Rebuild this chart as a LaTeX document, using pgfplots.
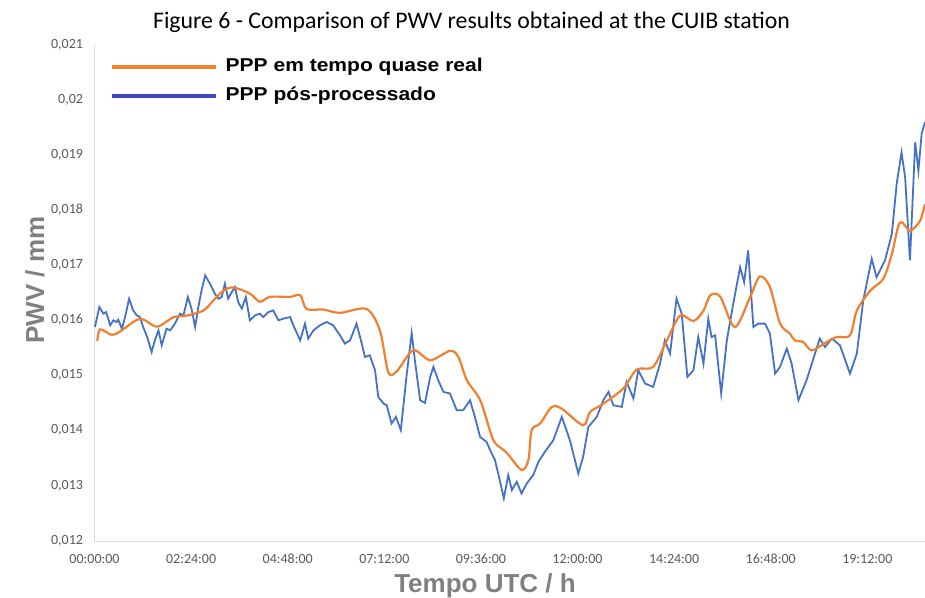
\documentclass[border=0pt]{standalone}
\usepackage{fontspec}
\setmainfont{Carlito}
\newfontfamily\arialfont{Liberation Sans}
\usepackage{graphicx}
\usepackage{pgfplots}
\pgfplotsset{compat=1.18}

\definecolor{serOrange}{RGB}{240,128,48}
\definecolor{serBlue}{RGB}{68,114,196}
\definecolor{legOrange}{RGB}{245,130,45}
\definecolor{legBlue}{RGB}{64,72,196}
\definecolor{tickgray}{RGB}{89,89,89}
\definecolor{labelgray}{RGB}{128,128,128}
\definecolor{axisgray}{RGB}{217,217,217}

% PPP em tempo quase real (hours, PWV)
\pgfplotstableread{
h v
0.07 0.01563
0.14 0.01584
0.43 0.01574
0.63 0.01580
1.13 0.01603
1.55 0.01589
1.96 0.01606
2.29 0.01609
2.70 0.01618
2.95 0.01636
3.20 0.01654
3.45 0.01660
3.86 0.01649
4.11 0.01634
4.36 0.01643
4.86 0.01643
5.11 0.01646
5.27 0.01621
5.68 0.01620
6.10 0.01614
6.76 0.01621
7.09 0.01582
7.30 0.01506
7.51 0.01508
7.92 0.01546
8.34 0.01528
8.83 0.01545
9.04 0.01534
9.25 0.01492
9.58 0.01456
9.83 0.01399
9.95 0.01378
10.24 0.01360
10.61 0.01329
10.78 0.01347
10.86 0.01401
11.07 0.01413
11.36 0.01443
11.61 0.01440
12.14 0.01410
12.31 0.01434
12.64 0.01449
13.14 0.01477
13.47 0.01511
13.88 0.01516
14.22 0.01564
14.55 0.01609
14.88 0.01599
15.13 0.01618
15.30 0.01646
15.55 0.01643
15.91 0.01588
16.29 0.01643
16.53 0.01680
16.78 0.01661
17.03 0.01595
17.28 0.01576
17.40 0.01564
17.61 0.01561
17.82 0.01546
18.19 0.01561
18.44 0.01570
18.77 0.01573
18.94 0.01618
19.27 0.01654
19.60 0.01676
19.81 0.01721
20.01 0.01778
20.26 0.01763
20.51 0.01781
20.63 0.01811
}\realtime

% PPP pos-processado (hours, PWV)
\pgfplotstableread{
h v
0.01 0.015882
0.12 0.016245
0.22 0.016125
0.29 0.016154
0.39 0.015913
0.47 0.016004
0.55 0.015973
0.59 0.016016
0.68 0.015853
0.76 0.016063
0.86 0.016397
0.96 0.016185
1.05 0.016094
1.13 0.016063
1.21 0.015882
1.31 0.015701
1.42 0.015429
1.50 0.015641
1.59 0.015822
1.67 0.015551
1.79 0.015853
1.88 0.015822
2.00 0.015944
2.12 0.016125
2.21 0.016094
2.32 0.016426
2.41 0.016216
2.50 0.015882
2.58 0.016245
2.66 0.016547
2.75 0.016819
2.87 0.016668
2.99 0.016487
3.08 0.016397
3.16 0.016426
3.24 0.016668
3.32 0.016397
3.41 0.016516
3.49 0.016607
3.57 0.016335
3.66 0.016216
3.76 0.016426
3.86 0.016004
3.99 0.016094
4.11 0.016125
4.19 0.016063
4.32 0.016154
4.44 0.016185
4.57 0.016004
4.69 0.016034
4.86 0.016063
4.94 0.015913
5.11 0.015641
5.23 0.015944
5.31 0.015672
5.44 0.015822
5.60 0.015913
5.77 0.015973
5.93 0.015913
6.10 0.015732
6.22 0.015582
6.35 0.015641
6.51 0.015944
6.64 0.015582
6.72 0.015339
6.84 0.015370
6.97 0.015098
7.05 0.014614
7.18 0.014495
7.26 0.014464
7.38 0.014132
7.49 0.014252
7.61 0.014011
7.76 0.015038
7.88 0.015774
7.96 0.015279
8.09 0.014554
8.21 0.014505
8.34 0.014976
8.42 0.015158
8.54 0.014917
8.67 0.014705
8.83 0.014676
9.00 0.014373
9.16 0.014373
9.33 0.014554
9.45 0.014252
9.58 0.013889
9.74 0.013799
9.83 0.013649
9.95 0.013467
10.03 0.013226
10.17 0.012774
10.28 0.013196
10.37 0.012924
10.49 0.013074
10.61 0.012864
10.74 0.013045
10.90 0.013196
11.03 0.013437
11.19 0.013618
11.40 0.013830
11.61 0.014252
11.81 0.013830
12.02 0.013226
12.14 0.013527
12.27 0.014071
12.48 0.014252
12.64 0.014554
12.77 0.014705
12.89 0.014464
13.10 0.014433
13.22 0.014886
13.39 0.014585
13.51 0.015098
13.68 0.014857
13.88 0.014795
14.05 0.015219
14.17 0.015641
14.30 0.015400
14.46 0.016397
14.59 0.016125
14.73 0.014976
14.88 0.015098
15.00 0.015701
15.13 0.015219
15.25 0.016034
15.33 0.015701
15.42 0.015732
15.57 0.014676
15.71 0.015641
15.87 0.016306
16.04 0.016969
16.14 0.016697
16.24 0.017272
16.37 0.015882
16.49 0.015944
16.66 0.015944
16.78 0.015763
16.91 0.015038
17.03 0.015158
17.20 0.015491
17.32 0.015219
17.49 0.014554
17.69 0.014917
17.90 0.015400
18.02 0.015672
18.15 0.015520
18.32 0.015672
18.52 0.015551
18.77 0.015038
18.94 0.015400
19.10 0.016366
19.31 0.017121
19.43 0.016788
19.64 0.017091
19.81 0.017574
19.93 0.018480
20.05 0.019053
20.14 0.018600
20.26 0.017091
20.39 0.019234
20.47 0.018721
20.55 0.019386
20.63 0.019596
}\postproc

\begin{document}
\begin{tikzpicture}
\path[use as bounding box] (-94.5pt,-56pt) rectangle (830.5pt,541pt);
\begin{axis}[
  at={(0pt,0pt)}, anchor=south west,
  scale only axis, width=830.5pt, height=496pt,
  xmin=0, xmax=20.634, ymin=0.012, ymax=0.021,
  axis lines=left,
  axis line style={-, draw=axisgray, line width=1pt},
  scaled y ticks=false,
  xtick={0,2.4,4.8,7.2,9.6,12,14.4,16.8,19.2},
  xticklabels={00:00:00,02:24:00,04:48:00,07:12:00,09:36:00,12:00:00,14:24:00,16:48:00,19:12:00},
  ytick={0.012,0.013,0.014,0.015,0.016,0.017,0.018,0.019,0.020,0.021},
  yticklabels={{0,012},{0,013},{0,014},{0,015},{0,016},{0,017},{0,018},{0,019},{0,02},{0,021}},
  major tick length=0pt,
  typeset ticklabels with strut,
  tick label style={font=\fontsize{14}{16}\selectfont, text=tickgray},
  xticklabel style={yshift=-8pt},
  yticklabel style={xshift=-8pt},
  legend style={at={(rel axis cs:0.0183,0.974)}, anchor=north west, draw=none, fill=none,
    inner sep=0pt, outer sep=0pt,
    font=\arialfont\bfseries\fontsize{18.6}{22}\selectfont, row sep=11pt,
    nodes={inner sep=0pt, text height=14pt, text depth=4pt},
    /tikz/every odd column/.append style={column sep=8pt}},
  legend cell align=left,
  legend image code/.code={\draw[#1] (0pt,0pt) -- (104pt,0pt);},
]
\addplot[serBlue, line width=1.8pt, forget plot] table[x=h, y=v] {\postproc};
\addplot[serOrange, line width=2.2pt, smooth, tension=0.5, forget plot] table[x=h, y=v] {\realtime};
\addlegendimage{legOrange, line width=4pt}
\addlegendentry{\scalebox{1.13}[1]{PPP em tempo quase real}}
\addlegendimage{legBlue, line width=4pt}
\addlegendentry{\scalebox{1.13}[1]{PPP pós-processado}}
\end{axis}
\node[font=\fontsize{23.8}{26}\selectfont, text=black] at (377pt,519pt) {Figure 6 - Comparison of PWV results obtained at the CUIB station};
\node[rotate=90, font=\arialfont\bfseries\fontsize{26}{30}\selectfont, text=labelgray] at (-59.5pt,261pt) {PWV / mm};
\node[font=\arialfont\bfseries\fontsize{26}{30}\selectfont, text=labelgray] at (390.5pt,-45pt) {Tempo UTC / h};
\end{tikzpicture}
\end{document}
